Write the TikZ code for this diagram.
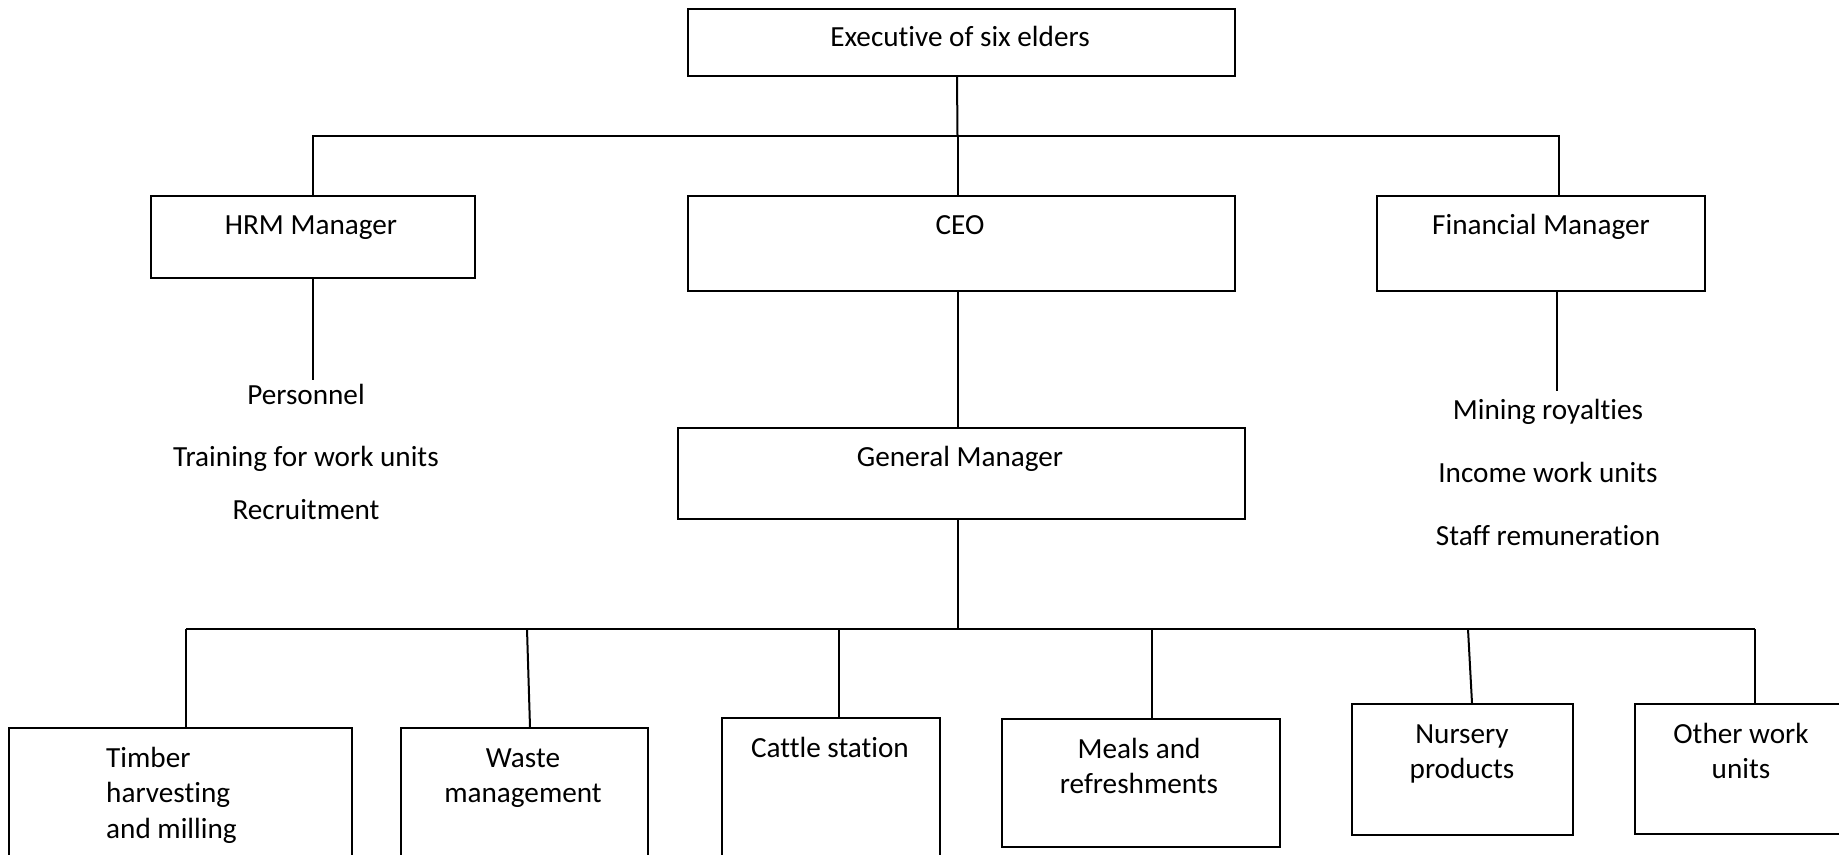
\documentclass[tikz,border=0pt]{standalone}
\usepackage{fontspec}
\setmainfont{Carlito}[Ligatures=NoCommon]
\begin{document}
\begin{tikzpicture}[x=1pt,y=-1pt,
  box/.style={draw, line width=2pt, anchor=north west, inner sep=0pt},
  txt/.style={anchor=base, inner sep=0pt, font=\fontsize{29.2}{35.5}\selectfont},
  conn/.style={line width=2pt}]
\clip (0,0) rectangle (1839,854);
% boxes
\node[box, minimum width=547pt, minimum height=67pt] (exec) at (687,8) {};
\node[box, minimum width=324pt, minimum height=82pt] (hrm) at (150,195) {};
\node[box, minimum width=547pt, minimum height=95pt] (ceo) at (687,195) {};
\node[box, minimum width=328pt, minimum height=95pt] (fin) at (1376,195) {};
\node[box, minimum width=567pt, minimum height=91pt] (gm) at (677,427) {};
\node[box, minimum width=343pt, minimum height=160pt] (timber) at (8,727) {};
\node[box, minimum width=247pt, minimum height=160pt] (waste) at (400,727) {};
\node[box, minimum width=218pt, minimum height=170pt] (cattle) at (721,717) {};
\node[box, minimum width=278pt, minimum height=128pt] (meals) at (1001,718) {};
\node[box, minimum width=221pt, minimum height=131pt] (nursery) at (1351,703) {};
\node[box, minimum width=230pt, minimum height=130pt] (other) at (1634,703) {};
% box texts
\node[txt] (exec-t) at (960,46) {Executive of six elders};
\node[txt] (hrm-t) at (311,234) {HRM Manager};
\node[txt] (ceo-t) at (960,234) {CEO};
\node[txt] (fin-t) at (1541,234) {Financial Manager};
\node[txt] (gm-t) at (960,466) {General Manager};
\node[txt, anchor=base west] (timber-t) at (106,767) {\begin{tabular}[t]{@{}l@{}}Timber\\harvesting\\and milling\end{tabular}};
\node[txt] (waste-t) at (523,767) {\begin{tabular}[t]{@{}c@{}}Waste\\management\end{tabular}};
\node[txt] (cattle-t) at (830,757) {Cattle station};
\node[txt] (meals-t) at (1139,758) {\begin{tabular}[t]{@{}c@{}}Meals and\\refreshments\end{tabular}};
\node[txt] (nursery-t) at (1462,743) {\begin{tabular}[t]{@{}c@{}}Nursery\\products\end{tabular}};
\node[txt] (other-t) at (1741,743) {\begin{tabular}[t]{@{}c@{}}Other work\\units\end{tabular}};
% free items
\node[txt] (pers) at (306,404) {Personnel};
\node[txt] (train) at (306,466) {Training for work units};
\node[txt] (recr) at (306,519) {Recruitment};
\node[txt] (mining) at (1548,419) {Mining royalties};
\node[txt] (income) at (1548,482) {Income work units};
\node[txt] (staff) at (1548,545) {Staff remuneration};
% junctions
\coordinate (j1) at (957.5,136);
\coordinate (jf) at (1559,136);
\coordinate (j2) at (957.5,629);
\coordinate (bl) at (186,629);
\coordinate (br) at (1755,629);
\coordinate (jw) at (527,629);
\coordinate (jc) at (839,629);
\coordinate (jm) at (1152,629);
\coordinate (jn) at (1468,629);
% connectors
\draw[conn] ([xshift=-4.5pt]exec.south) -- (j1);
\draw[conn] (hrm.north) |- (jf) -- (jf |- fin.north);
\draw[conn] (j1) -- (j1 |- ceo.north);
\draw[conn] (hrm.south) -- ([yshift=4pt]hrm.south |- pers.north);
\draw[conn] ([xshift=16pt]fin.south) -- ([xshift=16pt,yshift=8pt]fin.south |- mining.north);
\draw[conn] (j1 |- ceo.south) -- (j1 |- gm.north);
\draw[conn] (j1 |- gm.south) -- (j2);
\draw[conn] (bl) -- (br);
\draw[conn] (bl) -- (bl |- timber.north);
\draw[conn] (jw) -- ([xshift=5.5pt]waste.north);
\draw[conn] (jc) -- (jc |- cattle.north);
\draw[conn] (jm) -- (jm |- meals.north);
\draw[conn] (jn) -- ([xshift=9.5pt]nursery.north);
\draw[conn] (br) -- (br |- other.north);
\end{tikzpicture}
\end{document}
